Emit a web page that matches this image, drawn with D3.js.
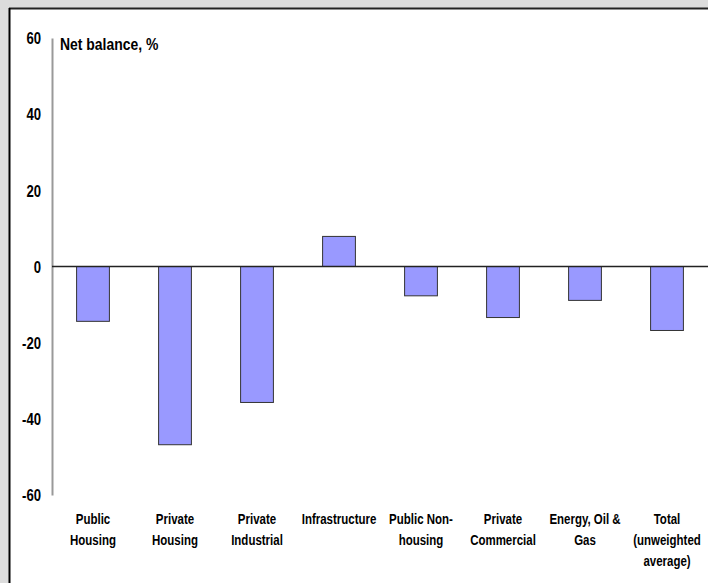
<!DOCTYPE html>
<html><head><meta charset="utf-8">
<script src="https://cdn.jsdelivr.net/npm/d3@7"></script>
<style>
html,body{margin:0;padding:0;background:#dcdcdc;}
svg{display:block;}
text{font-family:"Liberation Sans",Arial,sans-serif;font-weight:bold;fill:#000;}
</style></head><body>
<svg id="c" width="708" height="583"></svg>
<script>
const categories = [["Public","Housing"],["Private","Housing"],["Private","Industrial"],["Infrastructure"],["Public Non-","housing"],["Private","Commercial"],["Energy, Oil &","Gas"],["Total","(unweighted","average)"]];
const values = [-14.4, -46.8, -35.7, 7.9, -7.7, -13.4, -8.9, -16.8];
const yTicks = [60, 40, 20, 0, -20, -40, -60];
const yTitle = "Net balance, %";

const NARROW = 0.82;
const svg = d3.select("#c");
// frame
svg.append("rect").attr("x",0).attr("y",0).attr("width",708).attr("height",583).attr("fill","#dcdcdc");
svg.append("rect").attr("x",10).attr("y",9).attr("width",720).attr("height",600).attr("fill","#fff");
svg.append("line").attr("x1",9).attr("x2",708).attr("y1",8.5).attr("y2",8.5).attr("stroke","#222").attr("stroke-width",2);
svg.append("line").attr("x1",9.5).attr("x2",9.5).attr("y1",8).attr("y2",583).attr("stroke","#000").attr("stroke-width",2);

const idx = d3.range(categories.length);
const x = d3.scaleBand().domain(idx).range([52, 708]).paddingInner(0.6).paddingOuter(0.3);
const y = d3.scaleLinear().domain([-60, 60]).range([495, 38]);

// y axis
const yAxis = d3.axisLeft(y).tickValues(yTicks).tickSize(0).tickPadding(0).tickFormat(d => String(d));
const ga = svg.append("g").attr("transform","translate(52,0)").call(yAxis);
ga.select(".domain").attr("stroke","#999").attr("stroke-width",2);
ga.attr("font-family",null).attr("font-size",null);
ga.selectAll("text").attr("font-size",16).attr("fill","#000").attr("x",0).attr("dy","0.36em")
  .attr("transform",`translate(-11,0) scale(${NARROW},1)`);

// bars
svg.append("g").selectAll("rect").data(values).join("rect")
  .attr("x",(d,i)=>x(i))
  .attr("width",x.bandwidth())
  .attr("y",d=>y(Math.max(0,d)))
  .attr("height",d=>Math.abs(y(d)-y(0)))
  .attr("fill","#9999ff").attr("stroke","#333").attr("stroke-width",1);

// zero line
svg.append("line").attr("x1",52).attr("x2",708).attr("y1",y(0)).attr("y2",y(0)).attr("stroke","#222").attr("stroke-width",1.5);

// category labels
const xl = svg.append("g");
categories.forEach((lines,i)=>{
  const cx = x(i)+x.bandwidth()/2;
  const t = xl.append("text").attr("text-anchor","middle").attr("font-size",14)
    .attr("transform",`translate(${cx},524) scale(${NARROW},1)`);
  lines.forEach((ln,j)=>t.append("tspan").attr("x",0).attr("dy", j===0?0:21).text(ln));
});

// title
svg.append("text").attr("font-size",17).attr("transform",`translate(60,50) scale(${NARROW},1)`).text(yTitle);
</script>
</body></html>
